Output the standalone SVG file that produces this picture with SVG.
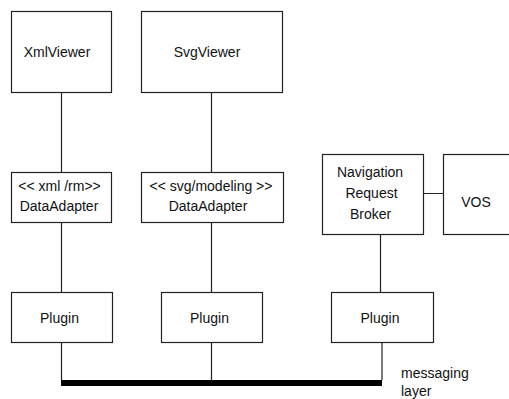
<svg xmlns="http://www.w3.org/2000/svg" width="509" height="399" viewBox="0 0 509 399">
<style>
.box{fill:#fff;stroke:#222;stroke-width:1.2}
.ln{stroke:#222;stroke-width:1.2;fill:none}
text{font-family:"Liberation Sans",Arial,sans-serif;font-size:14px;fill:#111;text-anchor:middle}
</style>
<rect width="509" height="399" fill="#fff"/>
<g id="connectors">
<path class="ln" d="M61.5 92.5V172.5M61.5 222.5V292.5M61.5 342.5V380M211.5 92.5V172.5M211.5 222.5V292.5M211.5 342.5V380M380.5 234.5V292.5M382 342.5V380M423.5 193.5H443.5"/>
<rect x="61" y="380" width="321" height="6" fill="#000"/>
</g>
<g id="xmlviewer"><rect class="box" x="11.5" y="11.5" width="100" height="81"/><text x="57" y="57">XmlViewer</text></g>
<g id="svgviewer"><rect class="box" x="141.5" y="11.5" width="141" height="81"/><text x="207" y="57">SvgViewer</text></g>
<g id="xmladapter"><rect class="box" x="11.5" y="172.5" width="100" height="50"/><text x="59.5" y="190.5">&lt;&lt; xml /rm&gt;&gt;</text><text x="59" y="210.5">DataAdapter</text></g>
<g id="svgadapter"><rect class="box" x="141.5" y="172.5" width="142" height="50"/><text x="211" y="190.5">&lt;&lt; svg/modeling &gt;&gt;</text><text x="208" y="210.5">DataAdapter</text></g>
<g id="nav"><rect class="box" x="322.5" y="154.5" width="101" height="80"/><text x="370" y="177">Navigation</text><text x="371.5" y="198">Request</text><text x="370.5" y="219">Broker</text></g>
<g id="vos"><rect class="box" x="443.5" y="154.5" width="70" height="80"/><text x="476" y="207">VOS</text></g>
<g id="plugin1"><rect class="box" x="11.5" y="292.5" width="101" height="50"/><text x="59.5" y="323">Plugin</text></g>
<g id="plugin2"><rect class="box" x="161.5" y="292.5" width="101" height="50"/><text x="209.5" y="323">Plugin</text></g>
<g id="plugin3"><rect class="box" x="331.5" y="292.5" width="102" height="50"/><text x="380" y="323">Plugin</text></g>
<g id="messaging"><text x="401" y="378" style="text-anchor:start">messaging</text><text x="401" y="396" style="text-anchor:start">layer</text></g>
</svg>
